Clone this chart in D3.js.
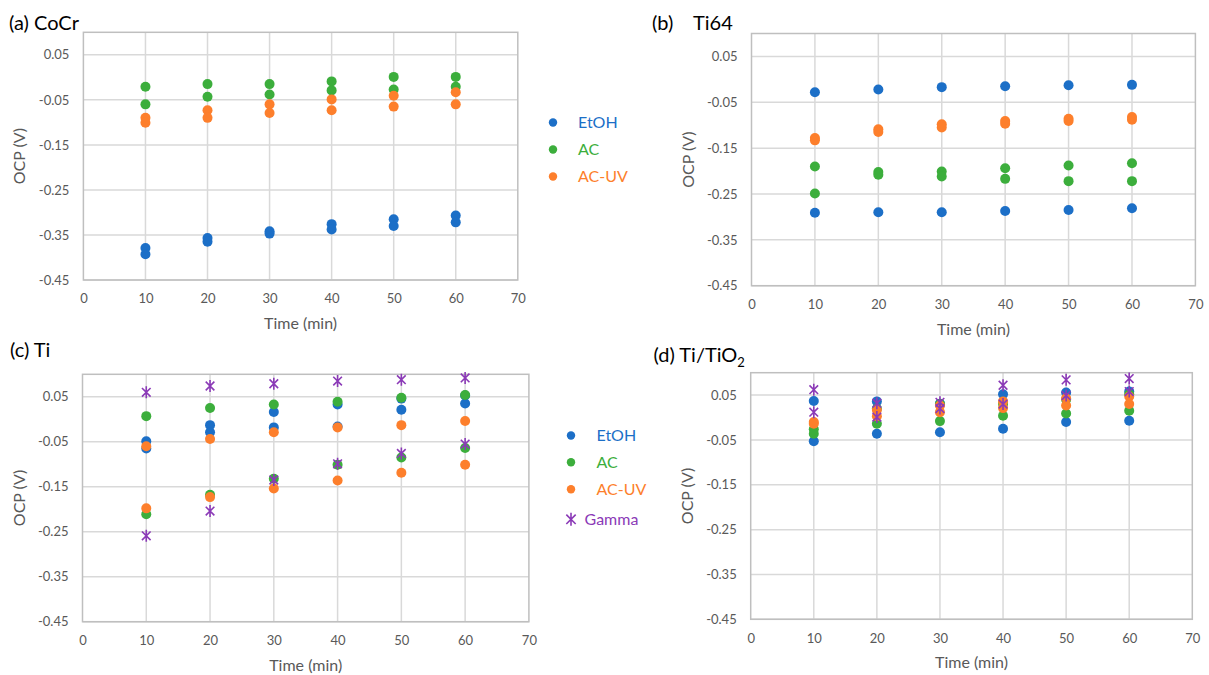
<!DOCTYPE html>
<html>
<head>
<meta charset="utf-8">
<script src="https://cdn.jsdelivr.net/npm/d3@7"></script>
<style>
  html, body { margin: 0; padding: 0; background: #ffffff; }
  svg { display: block; }
  text { font-family: Lato, "Open Sans", sans-serif; }
</style>
</head>
<body>
<svg id="chart" width="1209" height="675"></svg>
<script>
// ---------------- data ----------------
const timesRep = [10, 10, 20, 20, 30, 30, 40, 40, 50, 50, 60, 60];
const xTicks = [0, 10, 20, 30, 40, 50, 60, 70];
const yTicks = [-0.45, -0.35, -0.25, -0.15, -0.05, 0.05];
const seriesNames = ["EtOH", "AC", "AC-UV", "Gamma"];

// (a) CoCr
const cocrEtOH = [-0.379, -0.393, -0.357, -0.365, -0.342, -0.347, -0.326, -0.338, -0.315, -0.330, -0.307, -0.322];
const cocrAC   = [-0.021, -0.060, -0.015, -0.043, -0.015, -0.038, -0.009, -0.029, 0.001, -0.027, 0.001, -0.021];
const cocrACUV = [-0.090, -0.101, -0.073, -0.090, -0.060, -0.079, -0.049, -0.073, -0.041, -0.065, -0.033, -0.060];

// (b) Ti64
const ti64EtOH = [-0.028, -0.291, -0.022, -0.290, -0.017, -0.290, -0.015, -0.287, -0.013, -0.285, -0.012, -0.281];
const ti64AC   = [-0.190, -0.249, -0.202, -0.208, -0.201, -0.212, -0.194, -0.217, -0.188, -0.222, -0.183, -0.222];
const ti64ACUV = [-0.128, -0.133, -0.109, -0.115, -0.098, -0.105, -0.091, -0.097, -0.086, -0.091, -0.082, -0.088];

// (c) Ti
const tiEtOH  = [-0.049, -0.065, -0.013, -0.029, 0.016, -0.018, 0.033, -0.016, 0.021, 0.046, 0.035, 0.053];
const tiAC    = [0.007, -0.211, 0.025, -0.168, 0.033, -0.132, 0.039, -0.101, 0.048, -0.085, 0.054, -0.064];
const tiACUV  = [-0.060, -0.198, -0.044, -0.173, -0.029, -0.154, -0.018, -0.136, -0.013, -0.119, -0.004, -0.101];
const tiGamma = [0.060, -0.259, 0.074, -0.204, 0.079, -0.135, 0.085, -0.099, 0.088, -0.076, 0.092, -0.055];

// (d) Ti/TiO2
const tio2EtOH  = [0.037, -0.053, 0.036, -0.036, 0.031, -0.033, 0.052, -0.025, 0.056, -0.010, 0.058, -0.007];
const tio2AC    = [-0.026, -0.036, 0.020, -0.014, 0.030, -0.008, 0.030, 0.004, 0.040, 0.009, 0.052, 0.015];
const tio2ACUV  = [-0.010, -0.014, 0.017, 0.003, 0.027, 0.012, 0.036, 0.021, 0.043, 0.027, 0.047, 0.030];
const tio2Gamma = [0.062, 0.012, 0.032, 0.001, 0.034, 0.020, 0.072, 0.030, 0.084, 0.049, 0.087, 0.058];

// ---------------- styles ----------------
const colors = { "EtOH": "#1c6fc7", "AC": "#3cae3c", "AC-UV": "#fd7f2c", "Gamma": "#8b3ab7" };
const tickColor = "#595959";
const gridColor = "#d9d9d9";
const borderColor = "#bfbfbf";

const panels = [
  { title: "(a) CoCr", tx: 9, ty: 30, left: 83.4, right: 517.8, top: 32.3, bottom: 280,
    series: { "EtOH": cocrEtOH, "AC": cocrAC, "AC-UV": cocrACUV },
    legend: { x: 553, y: [122.5, 149.5, 176.5], textX: 578 } },
  { title: "(b)", title2: "Ti64", tx: 652, tx2: 693, ty: 30, left: 751.5, right: 1195.4, top: 33.5, bottom: 285.7,
    series: { "EtOH": ti64EtOH, "AC": ti64AC, "AC-UV": ti64ACUV } },
  { title: "(c) Ti", tx: 10, ty: 357, left: 82.5, right: 528.9, top: 374.3, bottom: 621.7,
    series: { "EtOH": tiEtOH, "AC": tiAC, "AC-UV": tiACUV, "Gamma": tiGamma },
    legend: { x: 571, y: [435.5, 462.3, 489.3, 519.3], textX: 596.5, gammaTextX: 584.5 } },
  { title: "(d) Ti/TiO", sub: "2", tx: 653.5, ty: 362, left: 750.7, right: 1192.3, top: 372.7, bottom: 619.3,
    series: { "EtOH": tio2EtOH, "AC": tio2AC, "AC-UV": tio2ACUV, "Gamma": tio2Gamma } }
];

const svg = d3.select("#chart");

function starPath(cx, cy, r) {
  const d = r * 0.72;
  return `M${cx - d},${cy - d}L${cx + d},${cy + d}M${cx - d},${cy + d}L${cx + d},${cy - d}M${cx},${cy - r}L${cx},${cy + r}`;
}

panels.forEach(p => {
  const g = svg.append("g");
  const x = d3.scaleLinear().domain([0, 70]).range([p.left, p.right]);
  const y = d3.scaleLinear().domain([-0.45, 0.1]).range([p.bottom, p.top]);

  // gridlines
  g.append("g").selectAll("line.h").data(yTicks).join("line")
    .attr("x1", p.left).attr("x2", p.right)
    .attr("y1", d => y(d)).attr("y2", d => y(d))
    .attr("stroke", gridColor).attr("stroke-width", 1.5);
  g.append("g").selectAll("line.v").data(xTicks.filter(t => t > 0 && t < 70)).join("line")
    .attr("x1", d => x(d)).attr("x2", d => x(d))
    .attr("y1", p.top).attr("y2", p.bottom)
    .attr("stroke", gridColor).attr("stroke-width", 1.5);

  // border
  g.append("rect").attr("x", p.left).attr("y", p.top)
    .attr("width", p.right - p.left).attr("height", p.bottom - p.top)
    .attr("fill", "none").attr("stroke", borderColor).attr("stroke-width", 1.5);

  // axes (labels via d3 axes)
  const xAxis = d3.axisBottom(x).tickValues(xTicks).tickSize(0).tickPadding(14).tickFormat(d3.format("d"));
  const gx = g.append("g").attr("transform", `translate(0,${p.bottom})`).call(xAxis);
  gx.select(".domain").remove();
  gx.selectAll("text").attr("fill", tickColor).style("font-size", "13px").style("font-family", "Lato, sans-serif");

  const yAxis = d3.axisLeft(y).tickValues(yTicks).tickSize(0).tickPadding(14).tickFormat(d3.format(".2f"));
  const gy = g.append("g").attr("transform", `translate(${p.left},0)`).call(yAxis);
  gy.select(".domain").remove();
  gy.selectAll("text").attr("fill", tickColor).style("font-size", "13px").style("font-family", "Lato, sans-serif")
    .text(d => d3.format(".2f")(d).replace("−", "-"));

  // axis titles
  g.append("text").attr("x", (p.left + p.right) / 2).attr("y", p.bottom + 49)
    .attr("text-anchor", "middle").attr("fill", tickColor).style("font-size", "16px").text("Time (min)");
  g.append("text").attr("transform", `translate(${p.left - 58},${(p.top + p.bottom) / 2}) rotate(-90)`)
    .attr("text-anchor", "middle").attr("fill", tickColor).style("font-size", "16px").text("OCP (V)");

  // panel titles
  const t = g.append("text").attr("x", p.tx).attr("y", p.ty).attr("fill", "#000").style("font-size", "20px");
  t.append("tspan").text(p.title);
  if (p.sub) t.append("tspan").attr("dy", 5).style("font-size", "13px").text(p.sub);
  if (p.title2) g.append("text").attr("x", p.tx2).attr("y", p.ty).attr("fill", "#000").style("font-size", "20px").text(p.title2);

  // points
  Object.keys(p.series).forEach(name => {
    const vals = p.series[name];
    const pts = vals.map((v, i) => ({ t: timesRep[i], v: v }));
    if (name === "Gamma") {
      g.append("g").selectAll("path").data(pts).join("path")
        .attr("d", d => starPath(x(d.t), y(d.v), 6))
        .attr("stroke", colors[name]).attr("stroke-width", 1.6).attr("fill", "none");
    } else {
      g.append("g").selectAll("circle").data(pts).join("circle")
        .attr("cx", d => x(d.t)).attr("cy", d => y(d.v)).attr("r", 5)
        .attr("fill", colors[name]);
    }
  });

  // legend
  if (p.legend) {
    const names = Object.keys(p.series);
    names.forEach((name, i) => {
      const ly = p.legend.y[i];
      if (name === "Gamma") {
        g.append("path").attr("d", starPath(p.legend.x, ly, 6.5))
          .attr("stroke", colors[name]).attr("stroke-width", 1.6).attr("fill", "none");
        g.append("text").attr("x", p.legend.gammaTextX).attr("y", ly).attr("dy", "0.36em")
          .attr("fill", colors[name]).style("font-size", "16px").text(name);
      } else {
        g.append("circle").attr("cx", p.legend.x).attr("cy", ly).attr("r", 4.2).attr("fill", colors[name]);
        g.append("text").attr("x", p.legend.textX).attr("y", ly).attr("dy", "0.36em")
          .attr("fill", colors[name]).style("font-size", "16px").text(name);
      }
    });
  }
});
</script>
</body>
</html>
